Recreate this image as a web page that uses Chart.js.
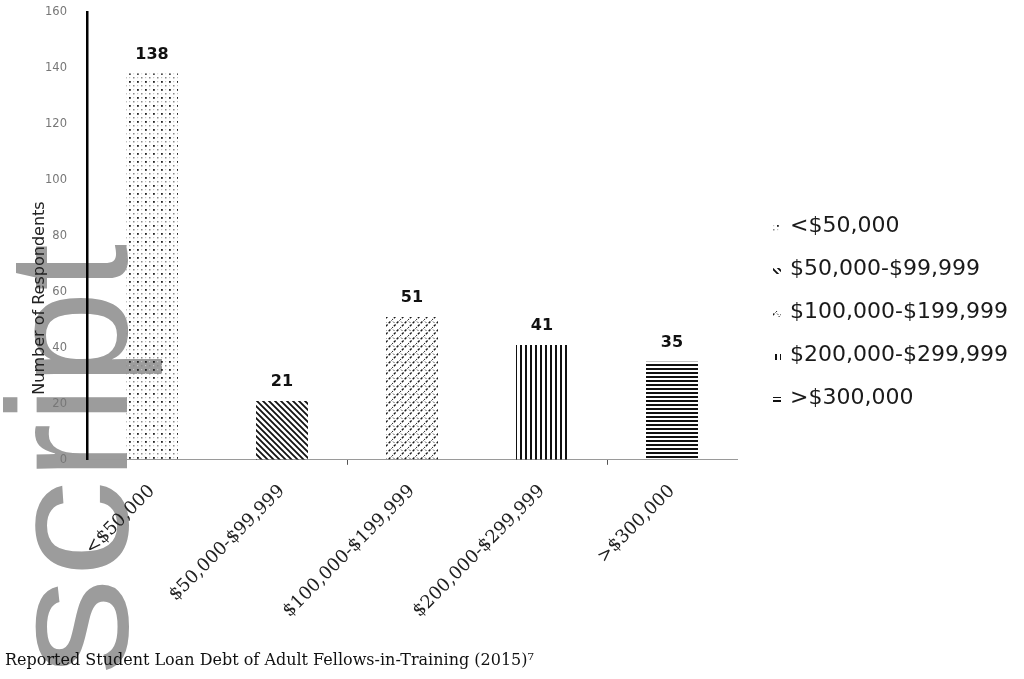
<!DOCTYPE html>
<html><head><meta charset="utf-8">
<script src="https://cdn.jsdelivr.net/npm/chart.js@4.4.1/dist/chart.umd.min.js"></script>
<style>html,body{margin:0;padding:0;background:#fff;overflow:hidden;} #wrap{width:1024px;height:679px;}</style>
</head><body><div id="wrap"><canvas id="c" width="1024" height="679" style="width:1024px;height:679px"></canvas></div>
<script>
// ---- data ----
const categories = ['<$50,000', '$50,000-$99,999', '$100,000-$199,999', '$200,000-$299,999', '>$300,000'];
const respondents = [138, 21, 51, 41, 35];
const yMin = 0;
const yMax = 160;
const yStep = 20;
const yAxisTitle = 'Number of Respondents';
const caption = 'Reported Student Loan Debt of Adult Fellows-in-Training (2015)\u2077';
const watermark = 'script';

// ---- fill patterns ----
function tile(w, h, draw) {
  const c = document.createElement('canvas');
  c.width = w; c.height = h;
  const g = c.getContext('2d');
  draw(g, w, h);
  return g.createPattern(c, 'repeat');
}
const canvas = document.getElementById('c');
const patterns = [
  tile(8, 8, g => {
    g.fillStyle = '#222'; g.fillRect(1, 1, 1.8, 1.8);
    g.fillStyle = '#8a8a8a'; g.fillRect(5, 5, 1.5, 1.5);
    g.fillStyle = '#c4c4c4'; g.fillRect(5, 1, 1.2, 1.2); g.fillRect(1, 5, 1.2, 1.2);
  }),
  tile(6, 6, g => {
    g.strokeStyle = '#111'; g.lineWidth = 1.8; g.beginPath();
    g.moveTo(-1, -1); g.lineTo(7, 7); g.moveTo(-1, 5); g.lineTo(1, 7); g.moveTo(5, -1); g.lineTo(7, 1);
    g.stroke();
  }),
  tile(8, 8, g => {
    g.strokeStyle = '#1a1a1a'; g.lineWidth = 1.4; g.setLineDash([2.5, 1.5]); g.beginPath();
    g.moveTo(-1, 9); g.lineTo(9, -1); g.stroke();
    g.setLineDash([]); g.strokeStyle = '#555'; g.lineWidth = 1; g.beginPath();
    g.moveTo(-1, 1); g.lineTo(1, -1); g.moveTo(7, 9); g.lineTo(9, 7);
    g.moveTo(1, 1.5); g.lineTo(2.5, 3); g.stroke();
  }),
  tile(5, 5, g => { g.fillStyle = '#111'; g.fillRect(0, 0, 2, 5); }),
  tile(4, 4, g => { g.fillStyle = '#111'; g.fillRect(0, 0, 4, 2); })
];

// ---- plugins ----
const watermarkPlugin = {
  id: 'watermark',
  beforeDraw(chart) {
    const g = chart.ctx;
    g.save();
    g.font = '170px "Liberation Sans"';
    g.fillStyle = '#9c9c9c';
    g.textAlign = 'left';
    g.textBaseline = 'alphabetic';
    const head = watermark.slice(0, 2), tail = watermark.slice(2);
    const stretch = 1.15;
    const tailStart = 480;
    let y = tailStart;
    for (let k = head.length - 1; k >= 0; k--) {
      const w = g.measureText(head[k]).width * stretch;
      y += w;
      g.save();
      g.translate(127, y);
      g.rotate(-Math.PI / 2);
      g.scale(stretch, 1);
      g.fillText(head[k], 0, 0);
      g.restore();
    }
    g.translate(127, tailStart);
    g.rotate(-Math.PI / 2);
    g.fillText(tail, 0, 0);
    g.restore();
  }
};
const yTitlePlugin = {
  id: 'yTitle',
  afterDraw(chart) {
    const g = chart.ctx;
    const a = chart.chartArea;
    g.save();
    g.translate(a.left - 47, 298);
    g.rotate(-Math.PI / 2);
    g.font = '16px "DejaVu Sans"';
    g.fillStyle = '#222';
    g.textAlign = 'center';
    g.textBaseline = 'middle';
    g.fillText(yAxisTitle, 0, 0);
    g.restore();
  }
};
const valueLabelPlugin = {
  id: 'valueLabels',
  afterDatasetsDraw(chart) {
    const g = chart.ctx;
    const meta = chart.getDatasetMeta(0);
    g.save();
    g.font = 'bold 16px "DejaVu Sans"';
    g.fillStyle = '#111';
    g.textAlign = 'center';
    g.textBaseline = 'middle';
    meta.data.forEach((bar, i) => g.fillText(String(respondents[i]), bar.x, bar.y - 19));
    g.restore();
  }
};
const sideLegendPlugin = {
  id: 'sideLegend',
  afterDraw(chart) {
    const g = chart.ctx;
    const x0 = chart.chartArea.right + 36;
    g.save();
    g.font = '22px "DejaVu Sans"';
    g.textAlign = 'left';
    g.textBaseline = 'middle';
    categories.forEach((label, i) => {
      const y = 226 + i * 43;
      g.fillStyle = patterns[i];
      g.fillRect(x0, y - 1, 8, 6);
      g.fillStyle = '#1a1a1a';
      g.fillText(label, x0 + 17, y);
    });
    g.restore();
  }
};

new Chart(canvas, {
  type: 'bar',
  data: {
    labels: categories,
    datasets: [{
      data: respondents,
      backgroundColor: patterns,
      borderWidth: 0,
      barPercentage: 0.4,
      categoryPercentage: 1
    }]
  },
  options: {
    responsive: false,
    animation: false,
    devicePixelRatio: 1,
    layout: { padding: { left: 5, right: 287, top: 12, bottom: 0 } },
    plugins: {
      legend: { display: false },
      tooltip: { enabled: false },
      title: {
        display: true, text: caption, position: 'bottom', align: 'start', color: '#111',
        font: { family: '"DejaVu Serif"', size: 16, weight: 'normal' },
        padding: { top: 0, bottom: 9 }
      }
    },
    scales: {
      x: {
        afterFit: s => { s.height = 191; s.paddingTop = 0; },
        border: { display: true, color: '#9a9a9a', width: 1 },
        grid: {
          display: true, drawOnChartArea: false, drawTicks: true, tickLength: 5, offset: true,
          color: c => (c.index === 2 || c.index === 4) ? '#555' : 'rgba(0,0,0,0)'
        },
        ticks: {
          maxRotation: 45, minRotation: 45, autoSkip: false, padding: 16, color: '#222',
          font: { family: '"DejaVu Serif"', size: 18 }
        }
      },
      y: {
        min: yMin, max: yMax,
        afterFit: s => { s.width = 82; s.paddingTop = 0; s.paddingBottom = 0; },
        border: { display: true, color: '#000', width: 2.5 },
        grid: { display: false, drawTicks: false },
        ticks: { stepSize: yStep, padding: 20, color: '#777', font: { family: '"DejaVu Sans"', size: 11.5 } }
      }
    }
  },
  plugins: [watermarkPlugin, yTitlePlugin, valueLabelPlugin, sideLegendPlugin]
});
</script>
</body></html>
